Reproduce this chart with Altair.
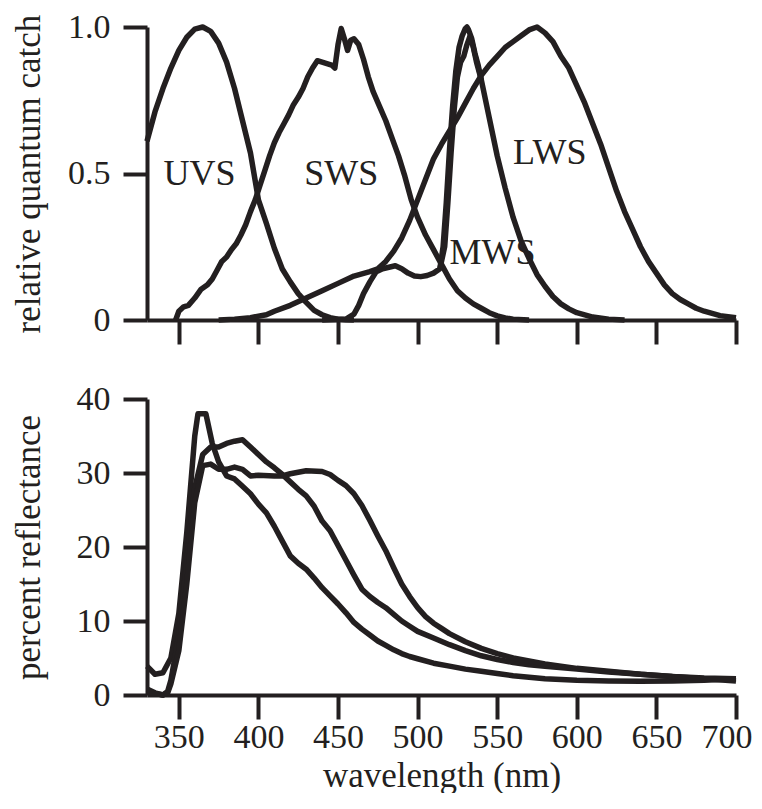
import altair as alt
import pandas as pd

FONT = "Liberation Serif"
INK = "#231f20"

# ---------------- top panel: relative quantum catch ----------------
uvs_wl = [330, 335, 340, 345, 350, 355, 360, 365, 370, 375, 380, 385, 390, 395, 400,
          405, 410, 415, 420, 425, 430, 435, 440, 445, 450, 455, 460]
uvs_q = [0.61, 0.71, 0.79, 0.86, 0.92, 0.965, 0.993, 1.0, 0.985, 0.945, 0.88, 0.79, 0.68,
         0.57, 0.41, 0.33, 0.245, 0.174, 0.13, 0.09, 0.06, 0.033, 0.018, 0.008, 0.003, 0.001, 0.0]

sws_wl = [348, 350, 353, 356, 360, 364, 368, 371, 374, 377, 380, 383, 386, 389, 392, 395,
          398, 401, 404, 407, 410, 413, 416, 419, 422, 425, 428, 431, 434, 437, 440, 443,
          446, 448, 450, 452, 454, 456, 458, 460, 463, 466, 469, 472, 476, 480, 484, 488,
          492, 496, 500, 505, 510, 515, 520, 525, 530, 535, 540, 545, 550, 555, 560, 570]
sws_q = [0.0, 0.03, 0.045, 0.05, 0.075, 0.105, 0.12, 0.14, 0.17, 0.2, 0.215, 0.24, 0.26,
         0.29, 0.325, 0.37, 0.41, 0.46, 0.51, 0.56, 0.605, 0.64, 0.67, 0.70, 0.735, 0.76,
         0.79, 0.83, 0.86, 0.885, 0.88, 0.875, 0.87, 0.86, 0.94, 0.995, 0.96, 0.92, 0.955,
         0.96, 0.94, 0.89, 0.83, 0.78, 0.73, 0.68, 0.62, 0.56, 0.49, 0.41, 0.35, 0.29, 0.24,
         0.19, 0.14, 0.10, 0.075, 0.055, 0.04, 0.025, 0.014, 0.007, 0.003, 0.0]

mws_wl = [440, 455, 460, 463, 466, 470, 474, 478, 482, 486, 490, 494, 498, 502, 506, 510,
          514, 516, 518, 520, 522, 524, 526, 528, 530, 531, 532, 534, 536, 538, 540, 545,
          550, 555, 560, 565, 570, 575, 580, 585, 590, 595, 600, 610, 620, 630]
mws_q = [0.0, 0.003, 0.02, 0.05, 0.09, 0.13, 0.165, 0.175, 0.18, 0.185, 0.175, 0.16, 0.15,
         0.148, 0.152, 0.16, 0.175, 0.25, 0.40, 0.58, 0.73, 0.85, 0.93, 0.97, 0.995, 1.0,
         0.99, 0.96, 0.91, 0.87, 0.82, 0.69, 0.56, 0.45, 0.35, 0.27, 0.21, 0.155, 0.115,
         0.08, 0.055, 0.038, 0.025, 0.01, 0.003, 0.0]

mws2_wl = [514, 517, 519, 521, 523, 525, 527, 529, 531, 533, 535, 537, 540]
mws2_q = [0.175, 0.25, 0.40, 0.57, 0.72, 0.83, 0.88, 0.90, 0.94, 0.97, 0.93, 0.88, 0.82]

lws_wl = [375, 385, 395, 405, 410, 420, 430, 440, 450, 460, 470, 475, 480, 485, 490, 495,
          500, 505, 510, 515, 520, 525, 530, 535, 540, 545, 550, 555, 560, 565, 570, 575,
          580, 585, 590, 595, 600, 605, 610, 615, 620, 625, 630, 635, 640, 645, 650, 655,
          660, 665, 670, 675, 680, 690, 700]
lws_q = [0.0, 0.003, 0.008, 0.018, 0.03, 0.05, 0.075, 0.10, 0.125, 0.15, 0.165, 0.175,
         0.20, 0.235, 0.28, 0.34, 0.41, 0.48, 0.55, 0.60, 0.645, 0.69, 0.74, 0.79, 0.835,
         0.87, 0.90, 0.93, 0.95, 0.97, 0.99, 1.0, 0.98, 0.95, 0.90, 0.86, 0.80, 0.74, 0.67,
         0.60, 0.52, 0.44, 0.37, 0.31, 0.25, 0.20, 0.16, 0.12, 0.09, 0.07, 0.055, 0.04, 0.03,
         0.015, 0.008]

label_text = ["UVS", "SWS", "MWS", "LWS"]
label_wl = [363, 452, 547, 583]
label_q = [0.5, 0.5, 0.23, 0.57]

# ---------------- bottom panel: percent reflectance ----------------
a_wl = [330, 335, 340, 345, 350, 355, 360, 362, 367, 371, 375, 380, 385, 390, 395, 400,
        405, 410, 415, 420, 425, 430, 435, 440, 445, 450, 455, 460, 465, 470, 475, 480,
        485, 490, 495, 500, 510, 520, 530, 540, 550, 560, 570, 580, 600, 620, 640, 660,
        680, 700]
a_r = [3.9, 2.8, 3.0, 5.0, 11.0, 22.0, 35.0, 38.0, 38.0, 34.0, 31.5, 29.6, 29.2, 28.2,
       27.2, 25.8, 24.6, 22.8, 20.8, 18.8, 17.8, 17.0, 15.8, 14.5, 13.4, 12.3, 11.1, 9.8,
       8.9, 8.1, 7.3, 6.7, 6.1, 5.6, 5.2, 4.9, 4.3, 3.9, 3.5, 3.2, 2.9, 2.6, 2.4, 2.2, 2.0,
       1.9, 1.85, 1.9, 2.0, 2.2]

b_wl = [330, 335, 340, 343, 345, 350, 355, 360, 365, 370, 375, 380, 385, 390, 395, 400,
        405, 410, 415, 420, 425, 430, 435, 440, 445, 450, 455, 460, 465, 470, 475, 480,
        485, 490, 495, 500, 510, 520, 530, 540, 550, 560, 570, 580, 600, 620, 640, 660,
        680, 700]
b_r = [0.8, 0.3, 0.0, 0.5, 2.0, 8.0, 18.0, 28.0, 32.5, 33.5, 33.5, 34.0, 34.3, 34.5, 33.5,
       32.5, 31.5, 30.7, 29.8, 28.8, 27.8, 26.9, 25.5, 23.5, 22.2, 20.2, 18.2, 16.2, 14.3,
       13.3, 12.5, 11.8, 10.9, 10.0, 9.3, 8.6, 7.7, 6.8, 6.0, 5.3, 4.8, 4.4, 4.1, 3.9, 3.5,
       3.1, 2.8, 2.5, 2.2, 1.9]

c_wl = [330, 335, 340, 343, 345, 350, 355, 360, 365, 370, 375, 380, 385, 390, 395, 400,
        410, 415, 420, 430, 440, 445, 450, 455, 460, 465, 470, 475, 480, 485, 490, 495,
        500, 505, 510, 515, 520, 530, 540, 550, 560, 580, 600, 620, 640, 660, 680, 700]
c_r = [0.5, 0.2, 0.0, 0.3, 1.5, 6.0, 15.0, 26.0, 31.0, 31.2, 30.5, 30.5, 30.8, 30.5, 29.6,
       29.7, 29.6, 29.6, 29.9, 30.3, 30.2, 29.8, 29.0, 28.3, 27.2, 25.6, 23.6, 21.5, 19.5,
       17.2, 15.0, 13.3, 11.8, 10.6, 9.7, 9.0, 8.3, 7.2, 6.3, 5.6, 5.0, 4.2, 3.6, 3.2, 2.8,
       2.5, 2.3, 2.2]

x_ticks = [350, 400, 450, 500, 550, 600, 650, 700]


def series(name, xs, ys, yname):
    return pd.DataFrame({"curve": name, "wl": xs, yname: ys})


top_df = pd.concat([
    series("UVS", uvs_wl, uvs_q, "q"),
    series("SWS", sws_wl, sws_q, "q"),
    series("MWS", mws_wl, mws_q, "q"),
    series("MWS2", mws2_wl, mws2_q, "q"),
    series("LWS", lws_wl, lws_q, "q"),
], ignore_index=True)

bot_df = pd.concat([
    series("A", a_wl, a_r, "r"),
    series("B", b_wl, b_r, "r"),
    series("C", c_wl, c_r, "r"),
], ignore_index=True)

lab_df = pd.DataFrame({"text": label_text, "wl": label_wl, "q": label_q})

W = 589
H_TOP = 293
H_BOT = 296
Y_EXTENT = 80

xscale = alt.Scale(domain=[330, 700], nice=False, zero=False)

x_top = alt.X("wl:Q", scale=xscale,
              axis=alt.Axis(values=x_ticks, labels=False, title=None))
y_top = alt.Y("q:Q", scale=alt.Scale(domain=[0, 1], nice=False),
              axis=alt.Axis(values=[0, 0.5, 1.0],
                            labelExpr="datum.value == 0 ? '0' : format(datum.value, '.1f')",
                            title="relative quantum catch", titleFontSize=35,
                            minExtent=Y_EXTENT, maxExtent=Y_EXTENT, titlePadding=21))

top_lines = alt.Chart(top_df).mark_line(
    color=INK, strokeWidth=5.5, strokeJoin="round", strokeCap="butt"
).encode(x=x_top, y=y_top, detail="curve:N")

top_text = alt.Chart(lab_df).mark_text(
    font=FONT, fontSize=36, color=INK, align="center", baseline="middle"
).encode(x=alt.X("wl:Q", scale=xscale), y=alt.Y("q:Q"), text="text:N")

top = alt.layer(top_lines, top_text).properties(width=W, height=H_TOP)

x_bot = alt.X("wl:Q", scale=xscale,
              axis=alt.Axis(values=x_ticks, title="wavelength (nm)",
                            titleFontSize=35, titlePadding=4, labelPadding=1,
                            labelFlush=True, labelFlushOffset=16))
y_bot = alt.Y("r:Q", scale=alt.Scale(domain=[0, 40], nice=False),
              axis=alt.Axis(values=[0, 10, 20, 30, 40], title="percent reflectance",
                            titleFontSize=35, minExtent=Y_EXTENT, maxExtent=Y_EXTENT,
                            titlePadding=21))

bottom = alt.Chart(bot_df).mark_line(
    color=INK, strokeWidth=5.5, strokeJoin="round", strokeCap="butt"
).encode(x=x_bot, y=y_bot, detail="curve:N").properties(width=W, height=H_BOT)

chart = alt.vconcat(top, bottom, spacing=36).properties(
    padding={"left": 3, "top": 2, "right": 0, "bottom": 0}
).configure_view(stroke=None).configure_axis(
    grid=False,
    domainColor=INK, domainWidth=4,
    tickColor=INK, tickWidth=4, tickSize=24,
    labelFont=FONT, labelFontSize=34, labelColor=INK, labelPadding=3,
    labelFlush=False, labelOverlap=False,
    titleFont=FONT, titleFontWeight="normal", titleColor=INK,
).configure_axisLeft(labelPadding=13)

chart.save("out.html", embed_options={"renderer": "svg", "actions": False})
